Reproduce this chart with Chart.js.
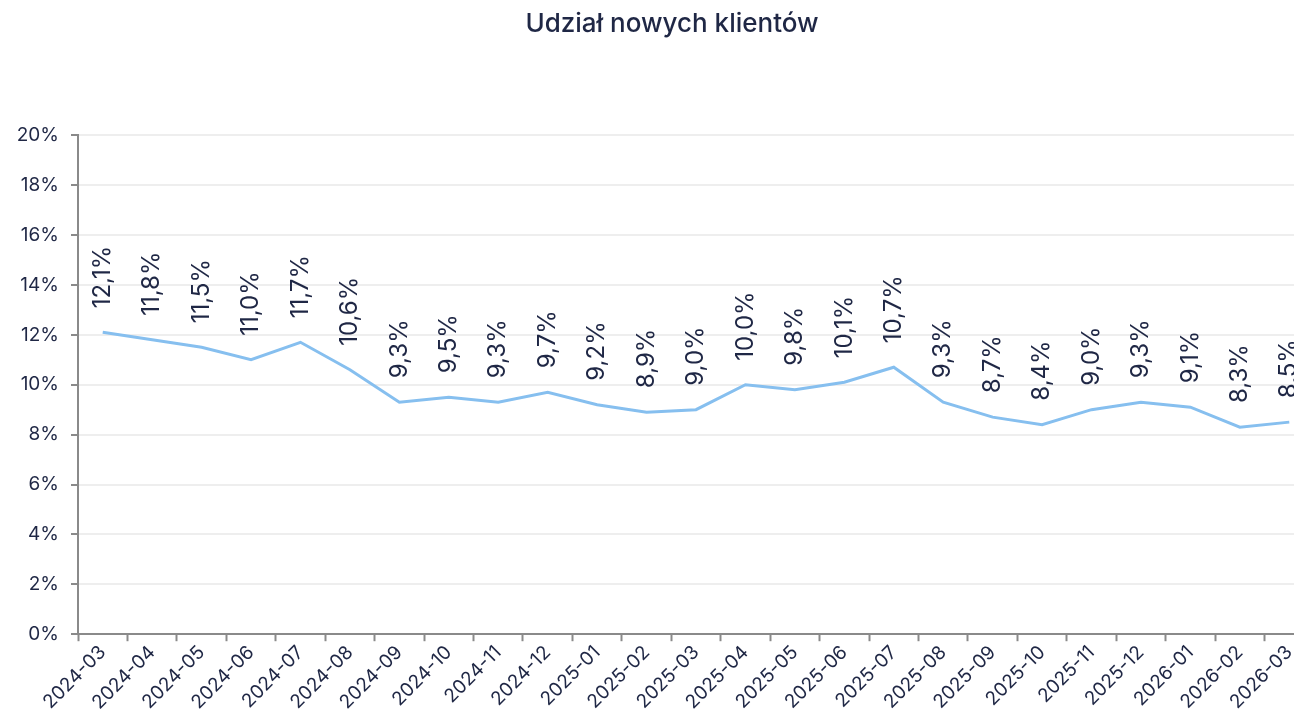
<!DOCTYPE html>
<html>
<head>
<meta charset="utf-8">
<script src="https://cdn.jsdelivr.net/npm/chart.js@4/dist/chart.umd.min.js"></script>
<style>
    html, body { margin: 0; padding: 0; background: #ffffff; overflow: hidden; }
    #wrap { width: 1294px; height: 714px; overflow: hidden; }
</style>
</head>
<body>
<div id="wrap"><canvas id="lineChart" width="1344" height="714"></canvas></div>
<script>
/* Data : share of new clients per month */
const months = ["2024-03", "2024-04", "2024-05", "2024-06", "2024-07", "2024-08", "2024-09", "2024-10",
    "2024-11", "2024-12", "2025-01", "2025-02", "2025-03", "2025-04", "2025-05", "2025-06", "2025-07",
    "2025-08", "2025-09", "2025-10", "2025-11", "2025-12", "2026-01", "2026-02", "2026-03"];
const share_new = [12.1, 11.8, 11.5, 11.0, 11.7, 10.6, 9.3, 9.5, 9.3, 9.7, 9.2, 8.9, 9.0,
    10.0, 9.8, 10.1, 10.7, 9.3, 8.7, 8.4, 9.0, 9.3, 9.1, 8.3, 8.5];
const y_ticks = [0, 2, 4, 6, 8, 10, 12, 14, 16, 18, 20];

const navy = "#1f2745";
const font_name = "Inter";

/* Vertical value labels above each point */
const valueLabels = {
    id: "valueLabels",
    afterDatasetsDraw: function (chart) {
        const ctx = chart.ctx;
        const meta = chart.getDatasetMeta(0);
        ctx.save();
        ctx.fillStyle = navy;
        ctx.font = "24px " + font_name;
        ctx.textAlign = "left";
        ctx.textBaseline = "middle";
        meta.data.forEach(function (pt, i) {
            const txt = share_new[i].toFixed(1).replace(".", ",") + "%";
            ctx.save();
            ctx.translate(pt.x, pt.y - 24);
            ctx.rotate(-Math.PI / 2);
            ctx.fillText(txt, 0, 0);
            ctx.restore();
        });
        ctx.restore();
    }
};

/* y labels stick out past the left padding, so widen their clip box */
const yLabelRoom = {
    id: "yLabelRoom",
    afterLayout: function (chart) {
        chart.scales.y.left = 0;
    }
};

new Chart(document.getElementById("lineChart").getContext("2d"), {
    type: "line",
    data: {
        labels: months,
        datasets: [{
            data: share_new,
            borderColor: "#86bfef",
            borderWidth: 3,
            pointRadius: 0,
            tension: 0,
            fill: false
        }]
    },
    options: {
        responsive: false,
        animation: false,
        layout: {
            padding: { left: 30, right: 30, top: 0, bottom: 0 }
        },
        plugins: {
            legend: { display: false },
            tooltip: { enabled: false },
            title: {
                display: true,
                text: "Udział nowych klientów",
                color: navy,
                font: { family: font_name, size: 26, weight: "500" },
                padding: { top: 9, bottom: 95 }
            }
        },
        scales: {
            x: {
                offset: true,
                grid: {
                    offset: true,
                    drawOnChartArea: false,
                    tickColor: "#8a8a8a",
                    tickLength: 7,
                    tickWidth: 2
                },
                border: { color: "#8a8a8a", width: 2 },
                ticks: {
                    color: navy,
                    font: { family: font_name, size: 19 },
                    minRotation: 45,
                    maxRotation: 45,
                    autoSkip: false,
                    padding: 0
                }
            },
            y: {
                min: 0,
                max: 20,
                afterBuildTicks: function (axis) {
                    axis.ticks = y_ticks.map(function (v) { return { value: v }; });
                },
                afterFit: function (axis) {
                    axis.width = 48;
                },
                grid: {
                    color: "#eeeeee",
                    lineWidth: 2,
                    tickColor: "#8a8a8a",
                    tickLength: 7,
                    tickWidth: 2
                },
                border: { color: "#8a8a8a", width: 2 },
                ticks: {
                    color: navy,
                    font: { family: font_name, size: 19 },
                    padding: 12,
                    callback: function (v) { return v + "%"; }
                }
            }
        }
    },
    plugins: [valueLabels, yLabelRoom]
});
</script>
</body>
</html>
